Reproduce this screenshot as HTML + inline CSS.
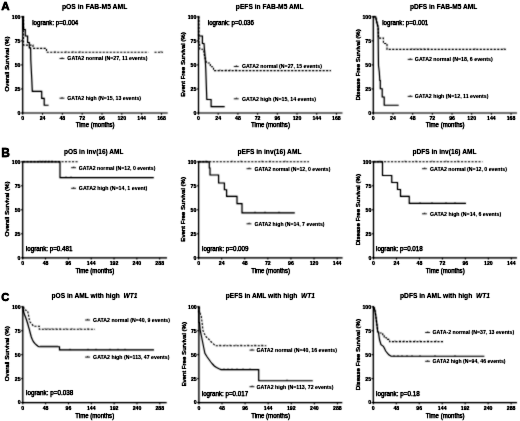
<!DOCTYPE html>
<html><head><meta charset="utf-8"><style>
html,body{margin:0;padding:0;background:#fff;overflow:hidden;}
svg{display:block;}
</style></head><body>
<svg xmlns="http://www.w3.org/2000/svg" width="520" height="421" viewBox="0 0 520 421">
<defs>
<filter id="bl" x="0" y="0" width="520" height="421" filterUnits="userSpaceOnUse"><feConvolveMatrix order="3" kernelMatrix="1 2 1 2 12 2 1 2 1" divisor="24" edgeMode="none"/><feComponentTransfer><feFuncA type="linear" slope="1.2"/></feComponentTransfer></filter>
<filter id="bd" x="0" y="0" width="520" height="421" filterUnits="userSpaceOnUse"><feConvolveMatrix order="3" kernelMatrix="1 2 1 2 12 2 1 2 1" divisor="24" edgeMode="none"/><feComponentTransfer><feFuncA type="linear" slope="1.2"/></feComponentTransfer></filter>
<filter id="bt" x="0" y="0" width="520" height="421" filterUnits="userSpaceOnUse"><feConvolveMatrix order="3" kernelMatrix="0 1 0 1 12 1 0 1 0" divisor="16" edgeMode="none"/><feComponentTransfer><feFuncA type="linear" slope="1.4"/></feComponentTransfer></filter>
</defs>
<rect width="520" height="421" fill="#fff"/>
<g filter="url(#bd)" fill="none" stroke="#000">
<path d="M22.70,16.80 L23.50,16.80 L23.50,45.10 L33.00,45.10 L33.00,48.40 L46.50,48.40 L46.50,52.30 L148.50,52.30" fill="none" stroke-width="1.1" stroke-dasharray="2.1,1.4" stroke-linejoin="miter"/>
<path d="M154.50,52.30 L163.00,52.30" fill="none" stroke-width="1.1" stroke-dasharray="2.1,1.4" stroke-linejoin="miter"/>
<path d="M198.50,16.80 L198.90,16.80 L198.90,42.60 L199.50,42.60 L199.70,49.20 L203.50,49.20 L204.20,54.00 L205.00,58.00 L206.60,63.00 L210.30,63.00 L210.30,66.80 L213.50,66.80 L213.50,70.60 L331.00,70.60" fill="none" stroke-width="1.1" stroke-dasharray="2.1,1.4" stroke-linejoin="miter"/>
<path d="M373.30,16.80 L375.70,16.80 L376.50,21.00 L377.30,24.00 L378.10,27.40 L378.50,38.10 L383.40,38.10 L383.40,43.50 L387.00,43.50 L387.00,49.40 L505.80,49.40" fill="none" stroke-width="1.1" stroke-dasharray="2.1,1.4" stroke-linejoin="miter"/>
<path d="M23.00,161.80 L79.00,161.80" fill="none" stroke-width="1.1" stroke-dasharray="2.1,1.4" stroke-linejoin="miter"/>
<path d="M198.75,161.80 L309.00,161.80" fill="none" stroke-width="1.1" stroke-dasharray="2.1,1.4" stroke-linejoin="miter"/>
<path d="M373.50,161.80 L482.50,161.80" fill="none" stroke-width="1.1" stroke-dasharray="2.1,1.4" stroke-linejoin="miter"/>
<path d="M23.00,306.80 L24.00,308.00 L25.00,310.00 L27.60,310.80 L28.50,315.00 L29.60,321.60 L31.90,324.00 L33.40,326.20 L39.30,326.20 L39.30,329.30 L95.00,329.30" fill="none" stroke-width="1.1" stroke-dasharray="2.1,1.4" stroke-linejoin="miter"/>
<path d="M198.90,306.80 L198.90,313.00 L200.00,313.00 L201.30,316.60 L202.00,322.00 L203.00,330.80 L204.50,334.00 L206.00,336.75 L208.50,339.00 L210.80,341.50 L213.00,343.50 L215.50,345.80 L266.25,345.80" fill="none" stroke-width="1.1" stroke-dasharray="2.1,1.4" stroke-linejoin="miter"/>
<path d="M373.30,306.80 L374.00,307.50 L375.00,310.80 L375.80,316.00 L376.50,321.60 L377.10,326.00 L377.60,330.90 L378.50,333.00 L382.70,333.00 L382.70,334.70 L384.20,334.70 L384.20,337.80 L386.50,337.80 L386.50,339.40 L389.60,339.40 L389.60,341.60 L444.00,341.60" fill="none" stroke-width="1.1" stroke-dasharray="2.1,1.4" stroke-linejoin="miter"/>
</g>
<g filter="url(#bl)" fill="none" stroke="#000">
<path d="M22.70,16.80 L23.20,16.80 L23.60,29.50 L25.30,29.50 L25.30,36.00 L27.60,36.00 L27.60,42.50 L29.30,42.50 L29.30,47.80 L30.60,47.80 L30.80,60.00 L31.30,70.00 L31.80,80.00 L32.30,91.40 L41.70,91.40 L41.70,98.30 L44.20,98.30 L44.20,105.20 L48.60,105.20" fill="none" stroke-width="1.15" stroke-linejoin="miter"/>
<line x1="55.00" y1="51.10" x2="55.00" y2="52.50" stroke-width="0.7"/>
<line x1="66.00" y1="51.10" x2="66.00" y2="52.50" stroke-width="0.7"/>
<line x1="73.00" y1="51.10" x2="73.00" y2="52.50" stroke-width="0.7"/>
<line x1="80.00" y1="51.10" x2="80.00" y2="52.50" stroke-width="0.7"/>
<line x1="161.00" y1="51.10" x2="161.00" y2="52.50" stroke-width="0.7"/>
<line x1="22.70" y1="16.10" x2="22.70" y2="113.60" stroke-width="1.2"/>
<line x1="22.10" y1="113.00" x2="167.70" y2="113.00" stroke-width="1.2"/>
<line x1="20.70" y1="113.00" x2="22.70" y2="113.00" stroke-width="0.9"/>
<line x1="20.70" y1="88.95" x2="22.70" y2="88.95" stroke-width="0.9"/>
<line x1="20.70" y1="64.90" x2="22.70" y2="64.90" stroke-width="0.9"/>
<line x1="20.70" y1="40.85" x2="22.70" y2="40.85" stroke-width="0.9"/>
<line x1="20.70" y1="16.80" x2="22.70" y2="16.80" stroke-width="0.9"/>
<line x1="22.70" y1="113.00" x2="22.70" y2="114.80" stroke-width="0.9"/>
<line x1="42.52" y1="113.00" x2="42.52" y2="114.80" stroke-width="0.9"/>
<line x1="62.35" y1="113.00" x2="62.35" y2="114.80" stroke-width="0.9"/>
<line x1="82.17" y1="113.00" x2="82.17" y2="114.80" stroke-width="0.9"/>
<line x1="102.00" y1="113.00" x2="102.00" y2="114.80" stroke-width="0.9"/>
<line x1="121.82" y1="113.00" x2="121.82" y2="114.80" stroke-width="0.9"/>
<line x1="141.64" y1="113.00" x2="141.64" y2="114.80" stroke-width="0.9"/>
<line x1="161.47" y1="113.00" x2="161.47" y2="114.80" stroke-width="0.9"/>
<line x1="59.50" y1="58.50" x2="64.40" y2="58.50" stroke-width="0.85"/>
<line x1="62.20" y1="57.30" x2="61.80" y2="58.60" stroke-width="0.7"/>
<line x1="59.50" y1="98.20" x2="64.40" y2="98.20" stroke-width="0.85"/>
<line x1="62.20" y1="97.00" x2="61.80" y2="98.30" stroke-width="0.7"/>
<path d="M198.50,16.80 L198.50,36.00 L202.40,36.00 L202.40,43.50 L204.00,43.50 L204.50,50.00 L205.20,58.00 L205.80,70.00 L206.30,85.00 L206.80,99.50 L211.10,99.50 L211.10,106.60 L224.70,106.60" fill="none" stroke-width="1.15" stroke-linejoin="miter"/>
<line x1="220.00" y1="69.40" x2="220.00" y2="70.80" stroke-width="0.7"/>
<line x1="226.00" y1="69.40" x2="226.00" y2="70.80" stroke-width="0.7"/>
<line x1="230.00" y1="69.40" x2="230.00" y2="70.80" stroke-width="0.7"/>
<line x1="236.00" y1="69.40" x2="236.00" y2="70.80" stroke-width="0.7"/>
<line x1="198.50" y1="16.10" x2="198.50" y2="113.60" stroke-width="1.2"/>
<line x1="197.90" y1="113.00" x2="342.50" y2="113.00" stroke-width="1.2"/>
<line x1="196.50" y1="113.00" x2="198.50" y2="113.00" stroke-width="0.9"/>
<line x1="196.50" y1="88.95" x2="198.50" y2="88.95" stroke-width="0.9"/>
<line x1="196.50" y1="64.90" x2="198.50" y2="64.90" stroke-width="0.9"/>
<line x1="196.50" y1="40.85" x2="198.50" y2="40.85" stroke-width="0.9"/>
<line x1="196.50" y1="16.80" x2="198.50" y2="16.80" stroke-width="0.9"/>
<line x1="198.50" y1="113.00" x2="198.50" y2="114.80" stroke-width="0.9"/>
<line x1="218.20" y1="113.00" x2="218.20" y2="114.80" stroke-width="0.9"/>
<line x1="237.91" y1="113.00" x2="237.91" y2="114.80" stroke-width="0.9"/>
<line x1="257.61" y1="113.00" x2="257.61" y2="114.80" stroke-width="0.9"/>
<line x1="277.32" y1="113.00" x2="277.32" y2="114.80" stroke-width="0.9"/>
<line x1="297.02" y1="113.00" x2="297.02" y2="114.80" stroke-width="0.9"/>
<line x1="316.72" y1="113.00" x2="316.72" y2="114.80" stroke-width="0.9"/>
<line x1="336.43" y1="113.00" x2="336.43" y2="114.80" stroke-width="0.9"/>
<line x1="233.80" y1="66.50" x2="238.70" y2="66.50" stroke-width="0.85"/>
<line x1="236.50" y1="65.30" x2="236.10" y2="66.60" stroke-width="0.7"/>
<line x1="233.80" y1="98.80" x2="238.70" y2="98.80" stroke-width="0.85"/>
<line x1="236.50" y1="97.60" x2="236.10" y2="98.90" stroke-width="0.7"/>
<path d="M373.30,16.80 L375.70,16.80 L376.50,21.00 L377.30,24.00 L378.10,27.40 L378.30,50.00 L378.50,65.50 L379.30,72.00 L379.80,80.50 L380.30,80.50 L380.30,88.70 L382.20,88.70 L382.20,97.00 L384.20,97.00 L384.20,105.20 L398.70,105.20" fill="none" stroke-width="1.15" stroke-linejoin="miter"/>
<line x1="412.00" y1="48.20" x2="412.00" y2="49.60" stroke-width="0.7"/>
<line x1="416.00" y1="48.20" x2="416.00" y2="49.60" stroke-width="0.7"/>
<line x1="420.00" y1="48.20" x2="420.00" y2="49.60" stroke-width="0.7"/>
<line x1="424.00" y1="48.20" x2="424.00" y2="49.60" stroke-width="0.7"/>
<line x1="428.00" y1="48.20" x2="428.00" y2="49.60" stroke-width="0.7"/>
<line x1="475.00" y1="48.20" x2="475.00" y2="49.60" stroke-width="0.7"/>
<line x1="504.00" y1="48.20" x2="504.00" y2="49.60" stroke-width="0.7"/>
<line x1="373.30" y1="16.10" x2="373.30" y2="113.60" stroke-width="1.2"/>
<line x1="372.70" y1="113.00" x2="517.00" y2="113.00" stroke-width="1.2"/>
<line x1="371.30" y1="113.00" x2="373.30" y2="113.00" stroke-width="0.9"/>
<line x1="371.30" y1="88.95" x2="373.30" y2="88.95" stroke-width="0.9"/>
<line x1="371.30" y1="64.90" x2="373.30" y2="64.90" stroke-width="0.9"/>
<line x1="371.30" y1="40.85" x2="373.30" y2="40.85" stroke-width="0.9"/>
<line x1="371.30" y1="16.80" x2="373.30" y2="16.80" stroke-width="0.9"/>
<line x1="373.30" y1="113.00" x2="373.30" y2="114.80" stroke-width="0.9"/>
<line x1="392.98" y1="113.00" x2="392.98" y2="114.80" stroke-width="0.9"/>
<line x1="412.66" y1="113.00" x2="412.66" y2="114.80" stroke-width="0.9"/>
<line x1="432.34" y1="113.00" x2="432.34" y2="114.80" stroke-width="0.9"/>
<line x1="452.02" y1="113.00" x2="452.02" y2="114.80" stroke-width="0.9"/>
<line x1="471.70" y1="113.00" x2="471.70" y2="114.80" stroke-width="0.9"/>
<line x1="491.38" y1="113.00" x2="491.38" y2="114.80" stroke-width="0.9"/>
<line x1="511.06" y1="113.00" x2="511.06" y2="114.80" stroke-width="0.9"/>
<line x1="407.70" y1="59.40" x2="412.60" y2="59.40" stroke-width="0.85"/>
<line x1="410.40" y1="58.20" x2="410.00" y2="59.50" stroke-width="0.7"/>
<line x1="407.70" y1="96.40" x2="412.60" y2="96.40" stroke-width="0.85"/>
<line x1="410.40" y1="95.20" x2="410.00" y2="96.50" stroke-width="0.7"/>
<path d="M23.00,161.80 L60.00,161.80 L60.00,177.60 L153.80,177.60" fill="none" stroke-width="1.15" stroke-linejoin="miter"/>
<line x1="40.00" y1="160.60" x2="40.00" y2="162.00" stroke-width="0.7"/>
<line x1="43.00" y1="160.60" x2="43.00" y2="162.00" stroke-width="0.7"/>
<line x1="46.00" y1="160.60" x2="46.00" y2="162.00" stroke-width="0.7"/>
<line x1="49.00" y1="160.60" x2="49.00" y2="162.00" stroke-width="0.7"/>
<line x1="52.00" y1="160.60" x2="52.00" y2="162.00" stroke-width="0.7"/>
<line x1="66.00" y1="176.40" x2="66.00" y2="177.80" stroke-width="0.7"/>
<line x1="71.00" y1="176.40" x2="71.00" y2="177.80" stroke-width="0.7"/>
<line x1="22.70" y1="161.10" x2="22.70" y2="258.40" stroke-width="1.2"/>
<line x1="22.10" y1="257.80" x2="167.00" y2="257.80" stroke-width="1.2"/>
<line x1="20.70" y1="257.80" x2="22.70" y2="257.80" stroke-width="0.9"/>
<line x1="20.70" y1="233.80" x2="22.70" y2="233.80" stroke-width="0.9"/>
<line x1="20.70" y1="209.80" x2="22.70" y2="209.80" stroke-width="0.9"/>
<line x1="20.70" y1="185.80" x2="22.70" y2="185.80" stroke-width="0.9"/>
<line x1="20.70" y1="161.80" x2="22.70" y2="161.80" stroke-width="0.9"/>
<line x1="22.70" y1="257.80" x2="22.70" y2="259.60" stroke-width="0.9"/>
<line x1="45.53" y1="257.80" x2="45.53" y2="259.60" stroke-width="0.9"/>
<line x1="68.37" y1="257.80" x2="68.37" y2="259.60" stroke-width="0.9"/>
<line x1="91.20" y1="257.80" x2="91.20" y2="259.60" stroke-width="0.9"/>
<line x1="114.03" y1="257.80" x2="114.03" y2="259.60" stroke-width="0.9"/>
<line x1="136.87" y1="257.80" x2="136.87" y2="259.60" stroke-width="0.9"/>
<line x1="159.70" y1="257.80" x2="159.70" y2="259.60" stroke-width="0.9"/>
<line x1="71.10" y1="167.70" x2="76.00" y2="167.70" stroke-width="0.85"/>
<line x1="73.80" y1="166.50" x2="73.40" y2="167.80" stroke-width="0.7"/>
<line x1="71.10" y1="188.30" x2="76.00" y2="188.30" stroke-width="0.85"/>
<line x1="73.80" y1="187.10" x2="73.40" y2="188.40" stroke-width="0.7"/>
<path d="M198.75,161.80 L209.30,161.80 L209.30,168.00 L210.00,168.00 L210.00,175.00 L218.60,175.00 L218.60,183.00 L224.40,183.00 L224.40,189.70 L226.60,189.70 L226.60,196.40 L237.00,196.40 L237.00,203.60 L242.00,203.60 L242.00,212.80 L294.80,212.80" fill="none" stroke-width="1.15" stroke-linejoin="miter"/>
<line x1="206.00" y1="160.60" x2="206.00" y2="162.00" stroke-width="0.7"/>
<line x1="232.00" y1="160.60" x2="232.00" y2="162.00" stroke-width="0.7"/>
<line x1="241.00" y1="160.60" x2="241.00" y2="162.00" stroke-width="0.7"/>
<line x1="262.00" y1="160.60" x2="262.00" y2="162.00" stroke-width="0.7"/>
<line x1="270.00" y1="160.60" x2="270.00" y2="162.00" stroke-width="0.7"/>
<line x1="285.00" y1="160.60" x2="285.00" y2="162.00" stroke-width="0.7"/>
<line x1="255.00" y1="211.60" x2="255.00" y2="213.00" stroke-width="0.7"/>
<line x1="265.00" y1="211.60" x2="265.00" y2="213.00" stroke-width="0.7"/>
<line x1="279.00" y1="211.60" x2="279.00" y2="213.00" stroke-width="0.7"/>
<line x1="198.60" y1="161.10" x2="198.60" y2="258.40" stroke-width="1.2"/>
<line x1="198.00" y1="257.80" x2="342.60" y2="257.80" stroke-width="1.2"/>
<line x1="196.60" y1="257.80" x2="198.60" y2="257.80" stroke-width="0.9"/>
<line x1="196.60" y1="233.80" x2="198.60" y2="233.80" stroke-width="0.9"/>
<line x1="196.60" y1="209.80" x2="198.60" y2="209.80" stroke-width="0.9"/>
<line x1="196.60" y1="185.80" x2="198.60" y2="185.80" stroke-width="0.9"/>
<line x1="196.60" y1="161.80" x2="198.60" y2="161.80" stroke-width="0.9"/>
<line x1="198.60" y1="257.80" x2="198.60" y2="259.60" stroke-width="0.9"/>
<line x1="221.69" y1="257.80" x2="221.69" y2="259.60" stroke-width="0.9"/>
<line x1="244.78" y1="257.80" x2="244.78" y2="259.60" stroke-width="0.9"/>
<line x1="267.86" y1="257.80" x2="267.86" y2="259.60" stroke-width="0.9"/>
<line x1="290.95" y1="257.80" x2="290.95" y2="259.60" stroke-width="0.9"/>
<line x1="314.04" y1="257.80" x2="314.04" y2="259.60" stroke-width="0.9"/>
<line x1="337.13" y1="257.80" x2="337.13" y2="259.60" stroke-width="0.9"/>
<line x1="246.50" y1="168.70" x2="251.40" y2="168.70" stroke-width="0.85"/>
<line x1="249.20" y1="167.50" x2="248.80" y2="168.80" stroke-width="0.7"/>
<line x1="246.50" y1="223.80" x2="251.40" y2="223.80" stroke-width="0.85"/>
<line x1="249.20" y1="222.60" x2="248.80" y2="223.90" stroke-width="0.7"/>
<path d="M373.50,161.80 L382.50,161.80 L382.50,175.50 L391.75,175.50 L391.75,182.50 L397.50,182.50 L397.50,189.50 L400.50,189.50 L400.50,196.30 L409.25,196.30 L409.25,203.40 L466.00,203.40" fill="none" stroke-width="1.15" stroke-linejoin="miter"/>
<line x1="380.00" y1="160.60" x2="380.00" y2="162.00" stroke-width="0.7"/>
<line x1="405.00" y1="160.60" x2="405.00" y2="162.00" stroke-width="0.7"/>
<line x1="416.00" y1="160.60" x2="416.00" y2="162.00" stroke-width="0.7"/>
<line x1="432.00" y1="160.60" x2="432.00" y2="162.00" stroke-width="0.7"/>
<line x1="446.00" y1="160.60" x2="446.00" y2="162.00" stroke-width="0.7"/>
<line x1="458.00" y1="160.60" x2="458.00" y2="162.00" stroke-width="0.7"/>
<line x1="420.00" y1="202.20" x2="420.00" y2="203.60" stroke-width="0.7"/>
<line x1="432.00" y1="202.20" x2="432.00" y2="203.60" stroke-width="0.7"/>
<line x1="446.00" y1="202.20" x2="446.00" y2="203.60" stroke-width="0.7"/>
<line x1="455.00" y1="202.20" x2="455.00" y2="203.60" stroke-width="0.7"/>
<line x1="373.50" y1="161.10" x2="373.50" y2="258.40" stroke-width="1.2"/>
<line x1="372.90" y1="257.80" x2="517.00" y2="257.80" stroke-width="1.2"/>
<line x1="371.50" y1="257.80" x2="373.50" y2="257.80" stroke-width="0.9"/>
<line x1="371.50" y1="233.80" x2="373.50" y2="233.80" stroke-width="0.9"/>
<line x1="371.50" y1="209.80" x2="373.50" y2="209.80" stroke-width="0.9"/>
<line x1="371.50" y1="185.80" x2="373.50" y2="185.80" stroke-width="0.9"/>
<line x1="371.50" y1="161.80" x2="373.50" y2="161.80" stroke-width="0.9"/>
<line x1="373.50" y1="257.80" x2="373.50" y2="259.60" stroke-width="0.9"/>
<line x1="396.47" y1="257.80" x2="396.47" y2="259.60" stroke-width="0.9"/>
<line x1="419.44" y1="257.80" x2="419.44" y2="259.60" stroke-width="0.9"/>
<line x1="442.40" y1="257.80" x2="442.40" y2="259.60" stroke-width="0.9"/>
<line x1="465.37" y1="257.80" x2="465.37" y2="259.60" stroke-width="0.9"/>
<line x1="488.34" y1="257.80" x2="488.34" y2="259.60" stroke-width="0.9"/>
<line x1="511.31" y1="257.80" x2="511.31" y2="259.60" stroke-width="0.9"/>
<line x1="422.00" y1="168.70" x2="426.90" y2="168.70" stroke-width="0.85"/>
<line x1="424.70" y1="167.50" x2="424.30" y2="168.80" stroke-width="0.7"/>
<line x1="422.00" y1="213.80" x2="426.90" y2="213.80" stroke-width="0.85"/>
<line x1="424.70" y1="212.60" x2="424.30" y2="213.90" stroke-width="0.7"/>
<path d="M23.00,306.80 L23.30,309.00 L23.60,311.70 L24.50,314.50 L25.50,317.00 L26.70,320.50 L27.80,324.00 L28.60,327.00 L29.30,329.40 L30.50,334.00 L31.30,337.00 L32.20,339.30 L33.40,341.70 L35.00,343.60 L36.50,345.00 L38.00,346.20 L39.00,346.70 L59.50,346.70 L59.50,349.90 L154.00,349.90" fill="none" stroke-width="1.15" stroke-linejoin="miter"/>
<line x1="45.00" y1="328.10" x2="45.00" y2="329.50" stroke-width="0.7"/>
<line x1="48.00" y1="328.10" x2="48.00" y2="329.50" stroke-width="0.7"/>
<line x1="52.00" y1="328.10" x2="52.00" y2="329.50" stroke-width="0.7"/>
<line x1="56.00" y1="328.10" x2="56.00" y2="329.50" stroke-width="0.7"/>
<line x1="60.00" y1="328.10" x2="60.00" y2="329.50" stroke-width="0.7"/>
<line x1="66.00" y1="328.10" x2="66.00" y2="329.50" stroke-width="0.7"/>
<line x1="72.00" y1="328.10" x2="72.00" y2="329.50" stroke-width="0.7"/>
<line x1="80.00" y1="328.10" x2="80.00" y2="329.50" stroke-width="0.7"/>
<line x1="88.00" y1="328.10" x2="88.00" y2="329.50" stroke-width="0.7"/>
<line x1="41.00" y1="345.50" x2="41.00" y2="346.90" stroke-width="0.7"/>
<line x1="43.00" y1="345.50" x2="43.00" y2="346.90" stroke-width="0.7"/>
<line x1="45.00" y1="345.50" x2="45.00" y2="346.90" stroke-width="0.7"/>
<line x1="47.00" y1="345.50" x2="47.00" y2="346.90" stroke-width="0.7"/>
<line x1="49.00" y1="345.50" x2="49.00" y2="346.90" stroke-width="0.7"/>
<line x1="51.00" y1="345.50" x2="51.00" y2="346.90" stroke-width="0.7"/>
<line x1="53.00" y1="345.50" x2="53.00" y2="346.90" stroke-width="0.7"/>
<line x1="55.00" y1="345.50" x2="55.00" y2="346.90" stroke-width="0.7"/>
<line x1="57.00" y1="345.50" x2="57.00" y2="346.90" stroke-width="0.7"/>
<line x1="70.00" y1="348.70" x2="70.00" y2="350.10" stroke-width="0.7"/>
<line x1="88.00" y1="348.70" x2="88.00" y2="350.10" stroke-width="0.7"/>
<line x1="96.00" y1="348.70" x2="96.00" y2="350.10" stroke-width="0.7"/>
<line x1="110.00" y1="348.70" x2="110.00" y2="350.10" stroke-width="0.7"/>
<line x1="118.00" y1="348.70" x2="118.00" y2="350.10" stroke-width="0.7"/>
<line x1="125.00" y1="348.70" x2="125.00" y2="350.10" stroke-width="0.7"/>
<line x1="22.80" y1="306.10" x2="22.80" y2="403.20" stroke-width="1.2"/>
<line x1="22.20" y1="402.60" x2="166.70" y2="402.60" stroke-width="1.2"/>
<line x1="20.80" y1="402.60" x2="22.80" y2="402.60" stroke-width="0.9"/>
<line x1="20.80" y1="378.65" x2="22.80" y2="378.65" stroke-width="0.9"/>
<line x1="20.80" y1="354.70" x2="22.80" y2="354.70" stroke-width="0.9"/>
<line x1="20.80" y1="330.75" x2="22.80" y2="330.75" stroke-width="0.9"/>
<line x1="20.80" y1="306.80" x2="22.80" y2="306.80" stroke-width="0.9"/>
<line x1="22.80" y1="402.60" x2="22.80" y2="404.40" stroke-width="0.9"/>
<line x1="45.63" y1="402.60" x2="45.63" y2="404.40" stroke-width="0.9"/>
<line x1="68.47" y1="402.60" x2="68.47" y2="404.40" stroke-width="0.9"/>
<line x1="91.30" y1="402.60" x2="91.30" y2="404.40" stroke-width="0.9"/>
<line x1="114.13" y1="402.60" x2="114.13" y2="404.40" stroke-width="0.9"/>
<line x1="136.97" y1="402.60" x2="136.97" y2="404.40" stroke-width="0.9"/>
<line x1="159.80" y1="402.60" x2="159.80" y2="404.40" stroke-width="0.9"/>
<line x1="85.10" y1="320.00" x2="90.00" y2="320.00" stroke-width="0.85"/>
<line x1="87.80" y1="318.80" x2="87.40" y2="320.10" stroke-width="0.7"/>
<line x1="85.10" y1="357.10" x2="90.00" y2="357.10" stroke-width="0.85"/>
<line x1="87.80" y1="355.90" x2="87.40" y2="357.20" stroke-width="0.7"/>
<path d="M198.90,306.80 L198.90,322.50 L199.50,322.50 L200.10,329.60 L201.30,335.50 L202.50,341.50 L203.70,347.50 L204.90,353.40 L207.20,357.00 L209.00,359.50 L210.80,362.00 L212.50,364.00 L214.30,366.00 L216.50,367.50 L219.00,368.80 L221.00,369.60 L258.70,369.60 L258.70,380.70 L312.80,380.70" fill="none" stroke-width="1.15" stroke-linejoin="miter"/>
<line x1="220.00" y1="344.60" x2="220.00" y2="346.00" stroke-width="0.7"/>
<line x1="225.00" y1="344.60" x2="225.00" y2="346.00" stroke-width="0.7"/>
<line x1="230.00" y1="344.60" x2="230.00" y2="346.00" stroke-width="0.7"/>
<line x1="236.00" y1="344.60" x2="236.00" y2="346.00" stroke-width="0.7"/>
<line x1="241.00" y1="344.60" x2="241.00" y2="346.00" stroke-width="0.7"/>
<line x1="248.00" y1="344.60" x2="248.00" y2="346.00" stroke-width="0.7"/>
<line x1="255.00" y1="344.60" x2="255.00" y2="346.00" stroke-width="0.7"/>
<line x1="262.00" y1="344.60" x2="262.00" y2="346.00" stroke-width="0.7"/>
<line x1="224.00" y1="368.40" x2="224.00" y2="369.80" stroke-width="0.7"/>
<line x1="228.00" y1="368.40" x2="228.00" y2="369.80" stroke-width="0.7"/>
<line x1="232.00" y1="368.40" x2="232.00" y2="369.80" stroke-width="0.7"/>
<line x1="237.00" y1="368.40" x2="237.00" y2="369.80" stroke-width="0.7"/>
<line x1="243.00" y1="368.40" x2="243.00" y2="369.80" stroke-width="0.7"/>
<line x1="250.00" y1="368.40" x2="250.00" y2="369.80" stroke-width="0.7"/>
<line x1="287.00" y1="379.50" x2="287.00" y2="380.90" stroke-width="0.7"/>
<line x1="198.90" y1="306.10" x2="198.90" y2="403.20" stroke-width="1.2"/>
<line x1="198.30" y1="402.60" x2="342.30" y2="402.60" stroke-width="1.2"/>
<line x1="196.90" y1="402.60" x2="198.90" y2="402.60" stroke-width="0.9"/>
<line x1="196.90" y1="378.65" x2="198.90" y2="378.65" stroke-width="0.9"/>
<line x1="196.90" y1="354.70" x2="198.90" y2="354.70" stroke-width="0.9"/>
<line x1="196.90" y1="330.75" x2="198.90" y2="330.75" stroke-width="0.9"/>
<line x1="196.90" y1="306.80" x2="198.90" y2="306.80" stroke-width="0.9"/>
<line x1="198.90" y1="402.60" x2="198.90" y2="404.40" stroke-width="0.9"/>
<line x1="221.99" y1="402.60" x2="221.99" y2="404.40" stroke-width="0.9"/>
<line x1="245.08" y1="402.60" x2="245.08" y2="404.40" stroke-width="0.9"/>
<line x1="268.16" y1="402.60" x2="268.16" y2="404.40" stroke-width="0.9"/>
<line x1="291.25" y1="402.60" x2="291.25" y2="404.40" stroke-width="0.9"/>
<line x1="314.34" y1="402.60" x2="314.34" y2="404.40" stroke-width="0.9"/>
<line x1="337.43" y1="402.60" x2="337.43" y2="404.40" stroke-width="0.9"/>
<line x1="249.50" y1="350.10" x2="254.40" y2="350.10" stroke-width="0.85"/>
<line x1="252.20" y1="348.90" x2="251.80" y2="350.20" stroke-width="0.7"/>
<line x1="249.50" y1="386.70" x2="254.40" y2="386.70" stroke-width="0.85"/>
<line x1="252.20" y1="385.50" x2="251.80" y2="386.80" stroke-width="0.7"/>
<path d="M373.30,306.80 L374.00,307.50 L375.00,310.80 L375.80,316.00 L376.50,321.60 L377.10,326.00 L377.60,330.90 L378.50,333.00 L379.60,340.00 L381.00,344.75 L383.40,346.30 L384.50,348.50 L385.70,351.00 L387.20,353.00 L388.80,354.80 L391.10,356.20 L484.40,356.20" fill="none" stroke-width="1.15" stroke-linejoin="miter"/>
<line x1="395.00" y1="340.40" x2="395.00" y2="341.80" stroke-width="0.7"/>
<line x1="400.00" y1="340.40" x2="400.00" y2="341.80" stroke-width="0.7"/>
<line x1="404.00" y1="340.40" x2="404.00" y2="341.80" stroke-width="0.7"/>
<line x1="410.00" y1="340.40" x2="410.00" y2="341.80" stroke-width="0.7"/>
<line x1="415.00" y1="340.40" x2="415.00" y2="341.80" stroke-width="0.7"/>
<line x1="420.00" y1="340.40" x2="420.00" y2="341.80" stroke-width="0.7"/>
<line x1="428.00" y1="340.40" x2="428.00" y2="341.80" stroke-width="0.7"/>
<line x1="436.00" y1="340.40" x2="436.00" y2="341.80" stroke-width="0.7"/>
<line x1="394.00" y1="355.00" x2="394.00" y2="356.40" stroke-width="0.7"/>
<line x1="398.00" y1="355.00" x2="398.00" y2="356.40" stroke-width="0.7"/>
<line x1="402.00" y1="355.00" x2="402.00" y2="356.40" stroke-width="0.7"/>
<line x1="407.00" y1="355.00" x2="407.00" y2="356.40" stroke-width="0.7"/>
<line x1="412.00" y1="355.00" x2="412.00" y2="356.40" stroke-width="0.7"/>
<line x1="420.00" y1="355.00" x2="420.00" y2="356.40" stroke-width="0.7"/>
<line x1="435.00" y1="355.00" x2="435.00" y2="356.40" stroke-width="0.7"/>
<line x1="455.00" y1="355.00" x2="455.00" y2="356.40" stroke-width="0.7"/>
<line x1="373.30" y1="306.10" x2="373.30" y2="403.20" stroke-width="1.2"/>
<line x1="372.70" y1="402.60" x2="517.00" y2="402.60" stroke-width="1.2"/>
<line x1="371.30" y1="402.60" x2="373.30" y2="402.60" stroke-width="0.9"/>
<line x1="371.30" y1="378.65" x2="373.30" y2="378.65" stroke-width="0.9"/>
<line x1="371.30" y1="354.70" x2="373.30" y2="354.70" stroke-width="0.9"/>
<line x1="371.30" y1="330.75" x2="373.30" y2="330.75" stroke-width="0.9"/>
<line x1="371.30" y1="306.80" x2="373.30" y2="306.80" stroke-width="0.9"/>
<line x1="373.30" y1="402.60" x2="373.30" y2="404.40" stroke-width="0.9"/>
<line x1="396.27" y1="402.60" x2="396.27" y2="404.40" stroke-width="0.9"/>
<line x1="419.24" y1="402.60" x2="419.24" y2="404.40" stroke-width="0.9"/>
<line x1="442.20" y1="402.60" x2="442.20" y2="404.40" stroke-width="0.9"/>
<line x1="465.17" y1="402.60" x2="465.17" y2="404.40" stroke-width="0.9"/>
<line x1="488.14" y1="402.60" x2="488.14" y2="404.40" stroke-width="0.9"/>
<line x1="511.11" y1="402.60" x2="511.11" y2="404.40" stroke-width="0.9"/>
<line x1="425.10" y1="332.50" x2="430.00" y2="332.50" stroke-width="0.85"/>
<line x1="427.80" y1="331.30" x2="427.40" y2="332.60" stroke-width="0.7"/>
<line x1="425.10" y1="361.30" x2="430.00" y2="361.30" stroke-width="0.85"/>
<line x1="427.80" y1="360.10" x2="427.40" y2="361.40" stroke-width="0.7"/>
</g>
<g filter="url(#bt)" font-family='"Liberation Sans", sans-serif' font-weight="bold" fill="#000" stroke="#000" stroke-width="0.3">
<text x="1.3" y="9.6" font-size="11.6">A</text>
<text x="1.3" y="156.6" font-size="12.0">B</text>
<text x="1.3" y="300.7" font-size="11.2">C</text>
<text x="20.50" y="114.85" font-size="5.2" text-anchor="end" font-weight="bold" stroke-width="0.12">0</text>
<text x="20.50" y="90.80" font-size="5.2" text-anchor="end" font-weight="bold" stroke-width="0.12">25</text>
<text x="20.50" y="66.75" font-size="5.2" text-anchor="end" font-weight="bold" stroke-width="0.12">50</text>
<text x="20.50" y="42.70" font-size="5.2" text-anchor="end" font-weight="bold" stroke-width="0.12">75</text>
<text x="20.50" y="18.65" font-size="5.2" text-anchor="end" font-weight="bold" stroke-width="0.12">100</text>
<text x="22.70" y="119.60" font-size="5.2" text-anchor="middle" font-weight="bold" stroke-width="0.12">0</text>
<text x="42.52" y="119.60" font-size="5.2" text-anchor="middle" font-weight="bold" stroke-width="0.12">24</text>
<text x="62.35" y="119.60" font-size="5.2" text-anchor="middle" font-weight="bold" stroke-width="0.12">48</text>
<text x="82.17" y="119.60" font-size="5.2" text-anchor="middle" font-weight="bold" stroke-width="0.12">72</text>
<text x="102.00" y="119.60" font-size="5.2" text-anchor="middle" font-weight="bold" stroke-width="0.12">96</text>
<text x="121.82" y="119.60" font-size="5.2" text-anchor="middle" font-weight="bold" stroke-width="0.12">120</text>
<text x="141.64" y="119.60" font-size="5.2" text-anchor="middle" font-weight="bold" stroke-width="0.12">144</text>
<text x="161.47" y="119.60" font-size="5.2" text-anchor="middle" font-weight="bold" stroke-width="0.12">168</text>
<text x="95.20" y="127.40" font-size="6.4" text-anchor="middle" textLength="38.80" lengthAdjust="spacingAndGlyphs" font-weight="normal" stroke-width="0.25">Time (months)</text>
<text x="61.90" y="9.30" font-size="6.65" textLength="65.40" lengthAdjust="spacingAndGlyphs" font-weight="bold" stroke-width="0.0">pOS in FAB-M5 AML</text>
<text transform="translate(8.70,64.00) rotate(-90)" x="0" y="0" font-size="6.1" font-weight="normal" stroke-width="0.25" text-anchor="middle" textLength="55.1" lengthAdjust="spacingAndGlyphs">Overall Survival (%)</text>
<text x="32.20" y="24.50" font-size="6.35" textLength="46.10" lengthAdjust="spacingAndGlyphs" font-weight="normal" stroke-width="0.25">logrank: p=0.004</text>
<text x="67.30" y="60.40" font-size="5.25" textLength="80.10" lengthAdjust="spacingAndGlyphs" font-weight="bold" stroke-width="0.0">GATA2 normal (N=27, 11 events)</text>
<text x="67.30" y="100.10" font-size="5.25" textLength="73.80" lengthAdjust="spacingAndGlyphs" font-weight="bold" stroke-width="0.0">GATA2 high (N=15, 13 events)</text>
<text x="196.30" y="114.85" font-size="5.2" text-anchor="end" font-weight="bold" stroke-width="0.12">0</text>
<text x="196.30" y="90.80" font-size="5.2" text-anchor="end" font-weight="bold" stroke-width="0.12">25</text>
<text x="196.30" y="66.75" font-size="5.2" text-anchor="end" font-weight="bold" stroke-width="0.12">50</text>
<text x="196.30" y="42.70" font-size="5.2" text-anchor="end" font-weight="bold" stroke-width="0.12">75</text>
<text x="196.30" y="18.65" font-size="5.2" text-anchor="end" font-weight="bold" stroke-width="0.12">100</text>
<text x="198.50" y="119.60" font-size="5.2" text-anchor="middle" font-weight="bold" stroke-width="0.12">0</text>
<text x="218.20" y="119.60" font-size="5.2" text-anchor="middle" font-weight="bold" stroke-width="0.12">24</text>
<text x="237.91" y="119.60" font-size="5.2" text-anchor="middle" font-weight="bold" stroke-width="0.12">48</text>
<text x="257.61" y="119.60" font-size="5.2" text-anchor="middle" font-weight="bold" stroke-width="0.12">72</text>
<text x="277.32" y="119.60" font-size="5.2" text-anchor="middle" font-weight="bold" stroke-width="0.12">96</text>
<text x="297.02" y="119.60" font-size="5.2" text-anchor="middle" font-weight="bold" stroke-width="0.12">120</text>
<text x="316.72" y="119.60" font-size="5.2" text-anchor="middle" font-weight="bold" stroke-width="0.12">144</text>
<text x="336.43" y="119.60" font-size="5.2" text-anchor="middle" font-weight="bold" stroke-width="0.12">168</text>
<text x="270.50" y="127.40" font-size="6.4" text-anchor="middle" textLength="38.80" lengthAdjust="spacingAndGlyphs" font-weight="normal" stroke-width="0.25">Time (months)</text>
<text x="235.80" y="9.40" font-size="6.65" textLength="67.70" lengthAdjust="spacingAndGlyphs" font-weight="bold" stroke-width="0.0">pEFS in FAB-M5 AML</text>
<text transform="translate(185.30,64.45) rotate(-90)" x="0" y="0" font-size="6.1" font-weight="normal" stroke-width="0.25" text-anchor="middle" textLength="64.6" lengthAdjust="spacingAndGlyphs">Event Free Survival (%)</text>
<text x="207.80" y="24.70" font-size="6.35" textLength="46.20" lengthAdjust="spacingAndGlyphs" font-weight="normal" stroke-width="0.25">logrank: p=0.036</text>
<text x="241.90" y="68.40" font-size="5.25" textLength="80.00" lengthAdjust="spacingAndGlyphs" font-weight="bold" stroke-width="0.0">GATA2 normal (N=27, 15 events)</text>
<text x="241.90" y="100.70" font-size="5.25" textLength="74.10" lengthAdjust="spacingAndGlyphs" font-weight="bold" stroke-width="0.0">GATA2 high (N=15, 14 events)</text>
<text x="371.10" y="114.85" font-size="5.2" text-anchor="end" font-weight="bold" stroke-width="0.12">0</text>
<text x="371.10" y="90.80" font-size="5.2" text-anchor="end" font-weight="bold" stroke-width="0.12">25</text>
<text x="371.10" y="66.75" font-size="5.2" text-anchor="end" font-weight="bold" stroke-width="0.12">50</text>
<text x="371.10" y="42.70" font-size="5.2" text-anchor="end" font-weight="bold" stroke-width="0.12">75</text>
<text x="371.10" y="18.65" font-size="5.2" text-anchor="end" font-weight="bold" stroke-width="0.12">100</text>
<text x="373.30" y="119.60" font-size="5.2" text-anchor="middle" font-weight="bold" stroke-width="0.12">0</text>
<text x="392.98" y="119.60" font-size="5.2" text-anchor="middle" font-weight="bold" stroke-width="0.12">24</text>
<text x="412.66" y="119.60" font-size="5.2" text-anchor="middle" font-weight="bold" stroke-width="0.12">48</text>
<text x="432.34" y="119.60" font-size="5.2" text-anchor="middle" font-weight="bold" stroke-width="0.12">72</text>
<text x="452.02" y="119.60" font-size="5.2" text-anchor="middle" font-weight="bold" stroke-width="0.12">96</text>
<text x="471.70" y="119.60" font-size="5.2" text-anchor="middle" font-weight="bold" stroke-width="0.12">120</text>
<text x="491.38" y="119.60" font-size="5.2" text-anchor="middle" font-weight="bold" stroke-width="0.12">144</text>
<text x="511.06" y="119.60" font-size="5.2" text-anchor="middle" font-weight="bold" stroke-width="0.12">168</text>
<text x="445.15" y="127.40" font-size="6.4" text-anchor="middle" textLength="38.80" lengthAdjust="spacingAndGlyphs" font-weight="normal" stroke-width="0.25">Time (months)</text>
<text x="409.90" y="9.30" font-size="6.65" textLength="67.40" lengthAdjust="spacingAndGlyphs" font-weight="bold" stroke-width="0.0">pDFS in FAB-M5 AML</text>
<text transform="translate(360.10,64.80) rotate(-90)" x="0" y="0" font-size="6.1" font-weight="normal" stroke-width="0.25" text-anchor="middle" textLength="71.3" lengthAdjust="spacingAndGlyphs">Disease Free Survival (%)</text>
<text x="382.20" y="24.60" font-size="6.35" textLength="46.10" lengthAdjust="spacingAndGlyphs" font-weight="normal" stroke-width="0.25">logrank: p=0.001</text>
<text x="414.80" y="61.30" font-size="5.25" textLength="77.90" lengthAdjust="spacingAndGlyphs" font-weight="bold" stroke-width="0.0">GATA2 normal (N=18, 6 events)</text>
<text x="414.80" y="98.30" font-size="5.25" textLength="73.60" lengthAdjust="spacingAndGlyphs" font-weight="bold" stroke-width="0.0">GATA2 high (N=12, 11 events)</text>
<text x="20.50" y="259.65" font-size="5.2" text-anchor="end" font-weight="bold" stroke-width="0.12">0</text>
<text x="20.50" y="235.65" font-size="5.2" text-anchor="end" font-weight="bold" stroke-width="0.12">25</text>
<text x="20.50" y="211.65" font-size="5.2" text-anchor="end" font-weight="bold" stroke-width="0.12">50</text>
<text x="20.50" y="187.65" font-size="5.2" text-anchor="end" font-weight="bold" stroke-width="0.12">75</text>
<text x="20.50" y="163.65" font-size="5.2" text-anchor="end" font-weight="bold" stroke-width="0.12">100</text>
<text x="22.70" y="265.30" font-size="5.2" text-anchor="middle" font-weight="bold" stroke-width="0.12">0</text>
<text x="45.53" y="265.30" font-size="5.2" text-anchor="middle" font-weight="bold" stroke-width="0.12">48</text>
<text x="68.37" y="265.30" font-size="5.2" text-anchor="middle" font-weight="bold" stroke-width="0.12">96</text>
<text x="91.20" y="265.30" font-size="5.2" text-anchor="middle" font-weight="bold" stroke-width="0.12">144</text>
<text x="114.03" y="265.30" font-size="5.2" text-anchor="middle" font-weight="bold" stroke-width="0.12">192</text>
<text x="136.87" y="265.30" font-size="5.2" text-anchor="middle" font-weight="bold" stroke-width="0.12">240</text>
<text x="159.70" y="265.30" font-size="5.2" text-anchor="middle" font-weight="bold" stroke-width="0.12">288</text>
<text x="94.85" y="273.10" font-size="6.4" text-anchor="middle" textLength="38.80" lengthAdjust="spacingAndGlyphs" font-weight="normal" stroke-width="0.25">Time (months)</text>
<text x="63.90" y="153.80" font-size="6.65" textLength="59.60" lengthAdjust="spacingAndGlyphs" font-weight="bold" stroke-width="0.0">pOS in inv(16) AML</text>
<text transform="translate(8.70,208.85) rotate(-90)" x="0" y="0" font-size="6.1" font-weight="normal" stroke-width="0.25" text-anchor="middle" textLength="55.1" lengthAdjust="spacingAndGlyphs">Overall Survival (%)</text>
<text x="25.80" y="250.60" font-size="6.35" textLength="46.70" lengthAdjust="spacingAndGlyphs" font-weight="normal" stroke-width="0.25">logrank: p=0.481</text>
<text x="78.80" y="169.60" font-size="5.25" textLength="76.60" lengthAdjust="spacingAndGlyphs" font-weight="bold" stroke-width="0.0">GATA2 normal (N=12, 0 events)</text>
<text x="78.80" y="190.20" font-size="5.25" textLength="68.50" lengthAdjust="spacingAndGlyphs" font-weight="bold" stroke-width="0.0">GATA2 high (N=14, 1 event)</text>
<text x="196.40" y="259.65" font-size="5.2" text-anchor="end" font-weight="bold" stroke-width="0.12">0</text>
<text x="196.40" y="235.65" font-size="5.2" text-anchor="end" font-weight="bold" stroke-width="0.12">25</text>
<text x="196.40" y="211.65" font-size="5.2" text-anchor="end" font-weight="bold" stroke-width="0.12">50</text>
<text x="196.40" y="187.65" font-size="5.2" text-anchor="end" font-weight="bold" stroke-width="0.12">75</text>
<text x="196.40" y="163.65" font-size="5.2" text-anchor="end" font-weight="bold" stroke-width="0.12">100</text>
<text x="198.60" y="265.30" font-size="5.2" text-anchor="middle" font-weight="bold" stroke-width="0.12">0</text>
<text x="221.69" y="265.30" font-size="5.2" text-anchor="middle" font-weight="bold" stroke-width="0.12">24</text>
<text x="244.78" y="265.30" font-size="5.2" text-anchor="middle" font-weight="bold" stroke-width="0.12">48</text>
<text x="267.86" y="265.30" font-size="5.2" text-anchor="middle" font-weight="bold" stroke-width="0.12">72</text>
<text x="290.95" y="265.30" font-size="5.2" text-anchor="middle" font-weight="bold" stroke-width="0.12">96</text>
<text x="314.04" y="265.30" font-size="5.2" text-anchor="middle" font-weight="bold" stroke-width="0.12">120</text>
<text x="337.13" y="265.30" font-size="5.2" text-anchor="middle" font-weight="bold" stroke-width="0.12">144</text>
<text x="270.60" y="273.10" font-size="6.4" text-anchor="middle" textLength="38.80" lengthAdjust="spacingAndGlyphs" font-weight="normal" stroke-width="0.25">Time (months)</text>
<text x="237.40" y="153.80" font-size="6.65" textLength="64.10" lengthAdjust="spacingAndGlyphs" font-weight="bold" stroke-width="0.0">pEFS in inv(16) AML</text>
<text transform="translate(185.40,209.35) rotate(-90)" x="0" y="0" font-size="6.1" font-weight="normal" stroke-width="0.25" text-anchor="middle" textLength="64.6" lengthAdjust="spacingAndGlyphs">Event Free Survival (%)</text>
<text x="202.00" y="250.60" font-size="6.35" textLength="46.50" lengthAdjust="spacingAndGlyphs" font-weight="normal" stroke-width="0.25">logrank: p=0.009</text>
<text x="254.40" y="170.60" font-size="5.25" textLength="76.00" lengthAdjust="spacingAndGlyphs" font-weight="bold" stroke-width="0.0">GATA2 normal (N=12, 0 events)</text>
<text x="254.40" y="225.70" font-size="5.25" textLength="70.20" lengthAdjust="spacingAndGlyphs" font-weight="bold" stroke-width="0.0">GATA2 high (N=14, 7 events)</text>
<text x="371.30" y="259.65" font-size="5.2" text-anchor="end" font-weight="bold" stroke-width="0.12">0</text>
<text x="371.30" y="235.65" font-size="5.2" text-anchor="end" font-weight="bold" stroke-width="0.12">25</text>
<text x="371.30" y="211.65" font-size="5.2" text-anchor="end" font-weight="bold" stroke-width="0.12">50</text>
<text x="371.30" y="187.65" font-size="5.2" text-anchor="end" font-weight="bold" stroke-width="0.12">75</text>
<text x="371.30" y="163.65" font-size="5.2" text-anchor="end" font-weight="bold" stroke-width="0.12">100</text>
<text x="373.50" y="265.30" font-size="5.2" text-anchor="middle" font-weight="bold" stroke-width="0.12">0</text>
<text x="396.47" y="265.30" font-size="5.2" text-anchor="middle" font-weight="bold" stroke-width="0.12">24</text>
<text x="419.44" y="265.30" font-size="5.2" text-anchor="middle" font-weight="bold" stroke-width="0.12">48</text>
<text x="442.40" y="265.30" font-size="5.2" text-anchor="middle" font-weight="bold" stroke-width="0.12">72</text>
<text x="465.37" y="265.30" font-size="5.2" text-anchor="middle" font-weight="bold" stroke-width="0.12">96</text>
<text x="488.34" y="265.30" font-size="5.2" text-anchor="middle" font-weight="bold" stroke-width="0.12">120</text>
<text x="511.31" y="265.30" font-size="5.2" text-anchor="middle" font-weight="bold" stroke-width="0.12">144</text>
<text x="445.25" y="273.10" font-size="6.4" text-anchor="middle" textLength="38.80" lengthAdjust="spacingAndGlyphs" font-weight="normal" stroke-width="0.25">Time (months)</text>
<text x="412.40" y="153.80" font-size="6.65" textLength="64.10" lengthAdjust="spacingAndGlyphs" font-weight="bold" stroke-width="0.0">pDFS in inv(16) AML</text>
<text transform="translate(360.30,209.70) rotate(-90)" x="0" y="0" font-size="6.1" font-weight="normal" stroke-width="0.25" text-anchor="middle" textLength="71.3" lengthAdjust="spacingAndGlyphs">Disease Free Survival (%)</text>
<text x="376.00" y="250.60" font-size="6.35" textLength="46.80" lengthAdjust="spacingAndGlyphs" font-weight="normal" stroke-width="0.25">logrank: p=0.018</text>
<text x="430.00" y="170.60" font-size="5.25" textLength="76.90" lengthAdjust="spacingAndGlyphs" font-weight="bold" stroke-width="0.0">GATA2 normal (N=12, 0 events)</text>
<text x="430.00" y="215.70" font-size="5.25" textLength="71.20" lengthAdjust="spacingAndGlyphs" font-weight="bold" stroke-width="0.0">GATA2 high (N=14, 6 events)</text>
<text x="20.60" y="404.45" font-size="5.2" text-anchor="end" font-weight="bold" stroke-width="0.12">0</text>
<text x="20.60" y="380.50" font-size="5.2" text-anchor="end" font-weight="bold" stroke-width="0.12">25</text>
<text x="20.60" y="356.55" font-size="5.2" text-anchor="end" font-weight="bold" stroke-width="0.12">50</text>
<text x="20.60" y="332.60" font-size="5.2" text-anchor="end" font-weight="bold" stroke-width="0.12">75</text>
<text x="20.60" y="308.65" font-size="5.2" text-anchor="end" font-weight="bold" stroke-width="0.12">100</text>
<text x="22.80" y="410.20" font-size="5.2" text-anchor="middle" font-weight="bold" stroke-width="0.12">0</text>
<text x="45.63" y="410.20" font-size="5.2" text-anchor="middle" font-weight="bold" stroke-width="0.12">48</text>
<text x="68.47" y="410.20" font-size="5.2" text-anchor="middle" font-weight="bold" stroke-width="0.12">96</text>
<text x="91.30" y="410.20" font-size="5.2" text-anchor="middle" font-weight="bold" stroke-width="0.12">144</text>
<text x="114.13" y="410.20" font-size="5.2" text-anchor="middle" font-weight="bold" stroke-width="0.12">192</text>
<text x="136.97" y="410.20" font-size="5.2" text-anchor="middle" font-weight="bold" stroke-width="0.12">240</text>
<text x="159.80" y="410.20" font-size="5.2" text-anchor="middle" font-weight="bold" stroke-width="0.12">288</text>
<text x="94.75" y="418.00" font-size="6.4" text-anchor="middle" textLength="38.80" lengthAdjust="spacingAndGlyphs" font-weight="normal" stroke-width="0.25">Time (months)</text>
<text x="51.50" y="298.30" font-size="6.65" textLength="86.00" lengthAdjust="spacingAndGlyphs" font-weight="bold" stroke-width="0.0">pOS in AML with high  <tspan font-style="italic" font-weight="bold">WT1</tspan></text>
<text transform="translate(8.80,353.75) rotate(-90)" x="0" y="0" font-size="6.1" font-weight="normal" stroke-width="0.25" text-anchor="middle" textLength="55.1" lengthAdjust="spacingAndGlyphs">Overall Survival (%)</text>
<text x="26.00" y="395.40" font-size="6.35" textLength="47.30" lengthAdjust="spacingAndGlyphs" font-weight="normal" stroke-width="0.25">logrank: p=0.038</text>
<text x="93.10" y="321.90" font-size="5.25" textLength="76.90" lengthAdjust="spacingAndGlyphs" font-weight="bold" stroke-width="0.0">GATA2 normal (N=40, 9 events)</text>
<text x="93.10" y="359.00" font-size="5.25" textLength="76.30" lengthAdjust="spacingAndGlyphs" font-weight="bold" stroke-width="0.0">GATA2 high (N=113, 47 events)</text>
<text x="196.70" y="404.45" font-size="5.2" text-anchor="end" font-weight="bold" stroke-width="0.12">0</text>
<text x="196.70" y="380.50" font-size="5.2" text-anchor="end" font-weight="bold" stroke-width="0.12">25</text>
<text x="196.70" y="356.55" font-size="5.2" text-anchor="end" font-weight="bold" stroke-width="0.12">50</text>
<text x="196.70" y="332.60" font-size="5.2" text-anchor="end" font-weight="bold" stroke-width="0.12">75</text>
<text x="196.70" y="308.65" font-size="5.2" text-anchor="end" font-weight="bold" stroke-width="0.12">100</text>
<text x="198.90" y="410.20" font-size="5.2" text-anchor="middle" font-weight="bold" stroke-width="0.12">0</text>
<text x="221.99" y="410.20" font-size="5.2" text-anchor="middle" font-weight="bold" stroke-width="0.12">48</text>
<text x="245.08" y="410.20" font-size="5.2" text-anchor="middle" font-weight="bold" stroke-width="0.12">96</text>
<text x="268.16" y="410.20" font-size="5.2" text-anchor="middle" font-weight="bold" stroke-width="0.12">144</text>
<text x="291.25" y="410.20" font-size="5.2" text-anchor="middle" font-weight="bold" stroke-width="0.12">192</text>
<text x="314.34" y="410.20" font-size="5.2" text-anchor="middle" font-weight="bold" stroke-width="0.12">240</text>
<text x="337.43" y="410.20" font-size="5.2" text-anchor="middle" font-weight="bold" stroke-width="0.12">288</text>
<text x="270.60" y="418.00" font-size="6.4" text-anchor="middle" textLength="38.80" lengthAdjust="spacingAndGlyphs" font-weight="normal" stroke-width="0.25">Time (months)</text>
<text x="225.70" y="298.20" font-size="6.65" textLength="89.30" lengthAdjust="spacingAndGlyphs" font-weight="bold" stroke-width="0.0">pEFS in AML with high  <tspan font-style="italic" font-weight="bold">WT1</tspan></text>
<text transform="translate(185.70,354.25) rotate(-90)" x="0" y="0" font-size="6.1" font-weight="normal" stroke-width="0.25" text-anchor="middle" textLength="64.6" lengthAdjust="spacingAndGlyphs">Event Free Survival (%)</text>
<text x="201.80" y="396.10" font-size="6.35" textLength="46.30" lengthAdjust="spacingAndGlyphs" font-weight="normal" stroke-width="0.25">logrank: p=0.017</text>
<text x="256.50" y="352.00" font-size="5.25" textLength="80.50" lengthAdjust="spacingAndGlyphs" font-weight="bold" stroke-width="0.0">GATA2 normal (N=40, 16 events)</text>
<text x="256.50" y="388.60" font-size="5.25" textLength="77.00" lengthAdjust="spacingAndGlyphs" font-weight="bold" stroke-width="0.0">GATA2 high (N=113, 72 events)</text>
<text x="371.10" y="404.45" font-size="5.2" text-anchor="end" font-weight="bold" stroke-width="0.12">0</text>
<text x="371.10" y="380.50" font-size="5.2" text-anchor="end" font-weight="bold" stroke-width="0.12">25</text>
<text x="371.10" y="356.55" font-size="5.2" text-anchor="end" font-weight="bold" stroke-width="0.12">50</text>
<text x="371.10" y="332.60" font-size="5.2" text-anchor="end" font-weight="bold" stroke-width="0.12">75</text>
<text x="371.10" y="308.65" font-size="5.2" text-anchor="end" font-weight="bold" stroke-width="0.12">100</text>
<text x="373.30" y="410.20" font-size="5.2" text-anchor="middle" font-weight="bold" stroke-width="0.12">0</text>
<text x="396.27" y="410.20" font-size="5.2" text-anchor="middle" font-weight="bold" stroke-width="0.12">48</text>
<text x="419.24" y="410.20" font-size="5.2" text-anchor="middle" font-weight="bold" stroke-width="0.12">96</text>
<text x="442.20" y="410.20" font-size="5.2" text-anchor="middle" font-weight="bold" stroke-width="0.12">144</text>
<text x="465.17" y="410.20" font-size="5.2" text-anchor="middle" font-weight="bold" stroke-width="0.12">192</text>
<text x="488.14" y="410.20" font-size="5.2" text-anchor="middle" font-weight="bold" stroke-width="0.12">240</text>
<text x="511.11" y="410.20" font-size="5.2" text-anchor="middle" font-weight="bold" stroke-width="0.12">288</text>
<text x="445.15" y="418.00" font-size="6.4" text-anchor="middle" textLength="38.80" lengthAdjust="spacingAndGlyphs" font-weight="normal" stroke-width="0.25">Time (months)</text>
<text x="400.00" y="298.30" font-size="6.65" textLength="90.00" lengthAdjust="spacingAndGlyphs" font-weight="bold" stroke-width="0.0">pDFS in AML with high  <tspan font-style="italic" font-weight="bold">WT1</tspan></text>
<text transform="translate(360.10,354.60) rotate(-90)" x="0" y="0" font-size="6.1" font-weight="normal" stroke-width="0.25" text-anchor="middle" textLength="71.3" lengthAdjust="spacingAndGlyphs">Disease Free Survival (%)</text>
<text x="376.00" y="395.80" font-size="6.35" textLength="43.80" lengthAdjust="spacingAndGlyphs" font-weight="normal" stroke-width="0.25">logrank: p=0.18</text>
<text x="432.50" y="334.40" font-size="5.25" textLength="81.70" lengthAdjust="spacingAndGlyphs" font-weight="bold" stroke-width="0.0">GATA-2 normal (N=37, 13 events)</text>
<text x="432.50" y="363.20" font-size="5.25" textLength="73.10" lengthAdjust="spacingAndGlyphs" font-weight="bold" stroke-width="0.0">GATA2 high (N=94, 46 events)</text>
</g>
</svg>
</body></html>
